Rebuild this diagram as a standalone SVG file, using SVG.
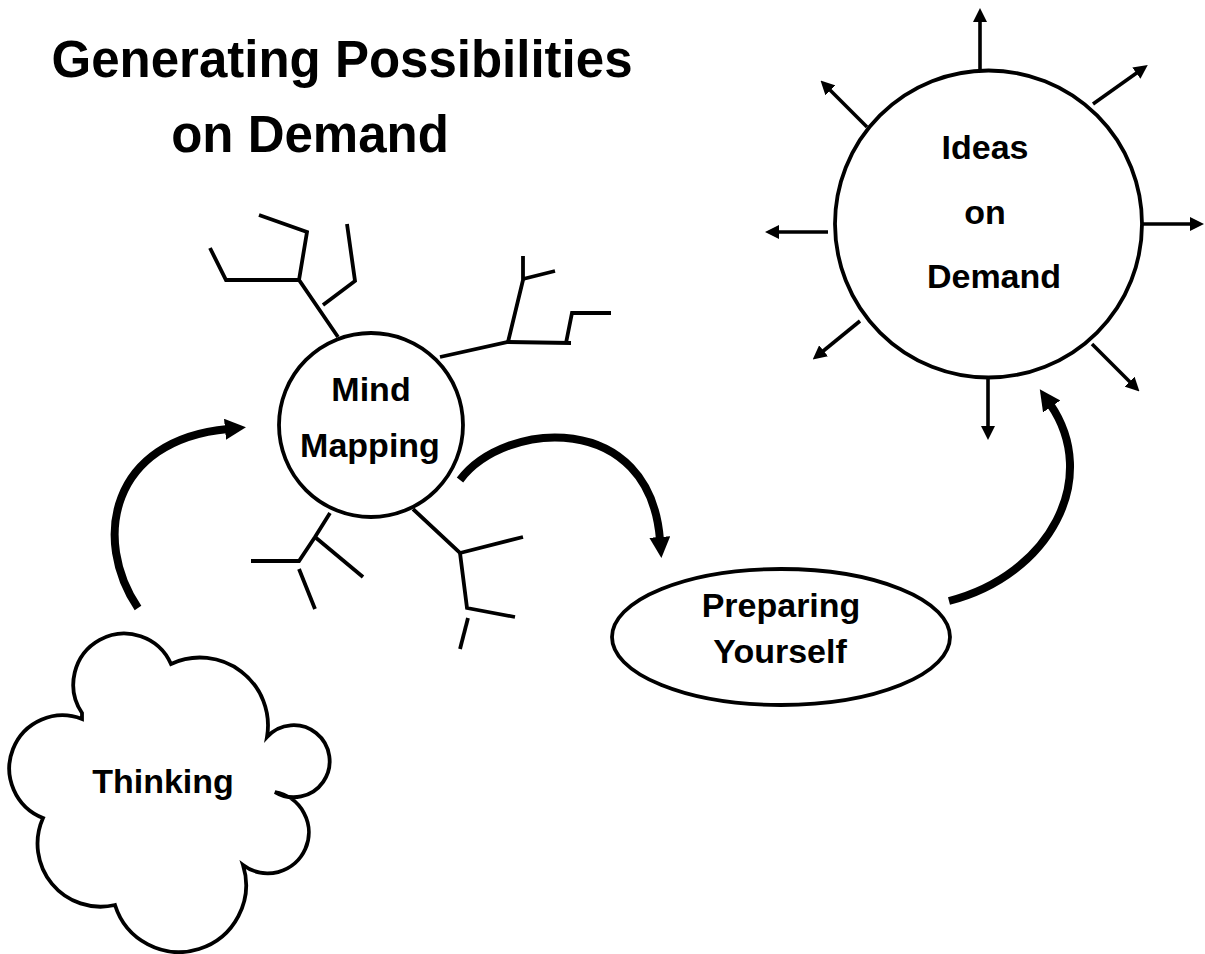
<svg xmlns="http://www.w3.org/2000/svg" width="1205" height="954" viewBox="0 0 1205 954">
<style>
  .t { font-family: "Liberation Sans", Arial, sans-serif; font-weight: bold; fill: #000; text-anchor: middle; }
  .title { font-size: 51px; }
  .lbl { font-size: 34px; }
  .shape { fill: #fff; stroke: #000; stroke-width: 3.8; }
  .br { fill: none; stroke: #000; stroke-width: 3.8; stroke-linecap: butt; stroke-linejoin: miter; }
  .ray { fill: none; stroke: #000; stroke-width: 3.6; marker-end: url(#ah); }
  .flow { fill: none; stroke: #000; stroke-width: 8; stroke-linecap: butt; marker-end: url(#bh); }
</style>
<defs>
  <marker id="ah" markerWidth="14" markerHeight="14" refX="2" refY="7" orient="auto" markerUnits="userSpaceOnUse">
    <path d="M0,0 L14,7 L0,14 z" fill="#000"/>
  </marker>
  <marker id="bh" markerWidth="22" markerHeight="22" refX="3" refY="10.5" orient="auto" markerUnits="userSpaceOnUse">
    <path d="M0,0 L21,10.5 L0,21 z" fill="#000"/>
  </marker>
</defs>
<rect width="1205" height="954" fill="#fff"/>

<g id="title">
  <text class="t title" x="342" y="77">Generating Possibilities</text>
  <text class="t title" x="310" y="152">on Demand</text>
</g>

<g id="connectors">
  <path class="flow" d="M138,608 C92,540 110,440 228,429"/>
  <path class="flow" d="M460,480 C505,420 650,410 660,540"/>
  <path class="flow" d="M949,601 C1050,575 1101,478 1050,404"/>
</g>

<g id="mind-map-branches">
  <polyline class="br" points="338,337 299,280 226,280 210,248"/>
  <polyline class="br" points="299,280 307,232 259,215"/>
  <polyline class="br" points="323,305 355,281 347,224"/>
  <polyline class="br" points="440,357 508,342 571,343"/>
  <polyline class="br" points="508,342 523,280 523,256"/>
  <polyline class="br" points="523,279 555,271"/>
  <polyline class="br" points="566,343 572,313 611,313"/>
  <polyline class="br" points="330,513 315,537 299,561 251,561"/>
  <polyline class="br" points="315,537 363,577"/>
  <polyline class="br" points="299,569 315,609"/>
  <polyline class="br" points="413,509 460,553 523,537"/>
  <polyline class="br" points="460,553 467,608 515,617"/>
  <polyline class="br" points="468,618 460,649"/>
</g>

<g id="mind-mapping">
  <circle class="shape" cx="371" cy="425" r="92"/>
  <text class="t lbl" x="371" y="401">Mind</text>
  <text class="t lbl" x="370" y="457">Mapping</text>
</g>

<g id="ideas-on-demand">
  <line class="ray" x1="980" y1="70" x2="980" y2="20"/>
  <line class="ray" x1="1093" y1="104" x2="1138" y2="72"/>
  <line class="ray" x1="1143" y1="224" x2="1192" y2="224"/>
  <line class="ray" x1="1092" y1="344" x2="1131" y2="383"/>
  <line class="ray" x1="988" y1="378" x2="988" y2="428"/>
  <line class="ray" x1="860" y1="321" x2="822" y2="352"/>
  <line class="ray" x1="828" y1="232" x2="777" y2="232"/>
  <line class="ray" x1="867" y1="127" x2="829" y2="89"/>
  <circle class="shape" cx="988.5" cy="224" r="153.5"/>
  <text class="t lbl" x="985" y="159">Ideas</text>
  <text class="t lbl" x="985" y="224">on</text>
  <text class="t lbl" x="994" y="288">Demand</text>
</g>

<g id="preparing-yourself">
  <ellipse class="shape" cx="781" cy="637" rx="169" ry="68"/>
  <text class="t lbl" x="781" y="617">Preparing</text>
  <text class="t lbl" x="780" y="663">Yourself</text>
</g>

<g id="thinking">
  <path class="shape" d="M82,713 A51,51 0 1 1 171,664 A68,68 0 0 1 267,737 A36,36 0 1 1 275,792 A41,41 0 1 1 243,865 A67,67 0 0 1 115,905 A63,63 0 0 1 43,818 A53,53 0 0 1 82,719 Z"/>
  <text class="t lbl" x="163" y="793">Thinking</text>
</g>
</svg>
